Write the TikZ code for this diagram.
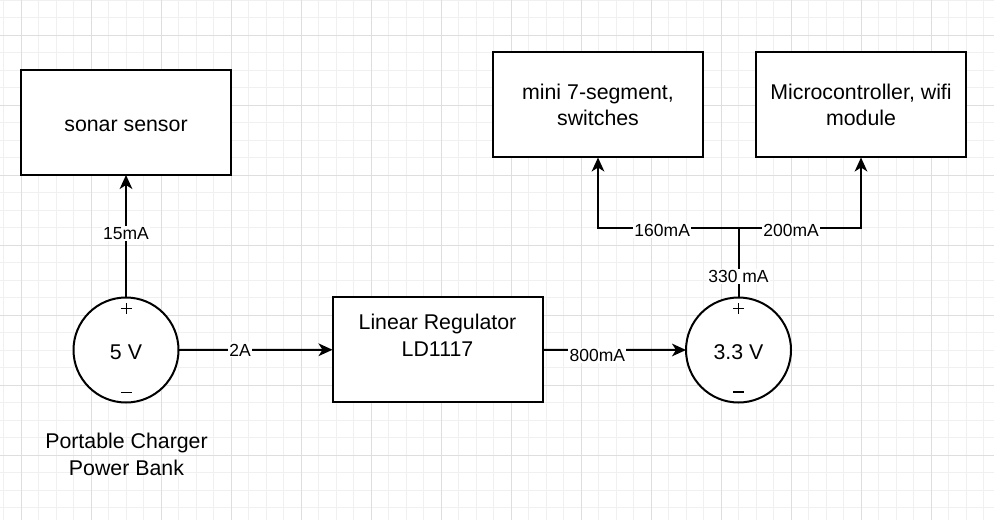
\documentclass[tikz,border=0pt]{standalone}
\usepackage{fontspec}
\setmainfont{Liberation Sans}
\usetikzlibrary{arrows.meta}
\begin{document}
\begin{tikzpicture}[x=0.75pt,y=-0.75pt,
  wire/.style={line width=1.5pt,draw=black},
  arr/.style={wire,-{Stealth[length=10.5pt,width=9.5pt,inset=3pt]}},
  txt/.style={font=\fontsize{16pt}{19.8pt}\selectfont,text height=15.8pt,text depth=2pt,align=center},
  two/.style={text height=33.5pt},
  blk/.style={txt,draw,line width=1.5pt,fill=white,minimum width=157.5pt,minimum height=78.75pt,inner sep=0pt,outer sep=0pt},
  src/.style={txt,draw,line width=1.5pt,fill=white,circle,minimum size=78.75pt,inner sep=0pt,outer sep=0pt},
  lbl/.style={font=\fontsize{13.125pt}{15pt}\selectfont,fill=white,inner sep=1pt},
  sign/.style={line width=1.2pt}
]
\useasboundingbox (0,0) rectangle (994,520);
\fill[white] (0,0) rectangle (994,520);
% grid
\foreach \i in {0,...,56} {\draw[black!6,line width=0.6pt] ({3.5+17.5*\i},0) -- ({3.5+17.5*\i},520);}
\foreach \i in {0,...,29} {\draw[black!6,line width=0.6pt] (0,{17.5*\i}) -- (994,{17.5*\i});}
\foreach \i in {0,...,13} {\draw[black!13,line width=0.6pt] ({21+70*\i},0) -- ({21+70*\i},520);}
\foreach \i in {0,...,7} {\draw[black!13,line width=0.6pt] (0,{35+70*\i}) -- (994,{35+70*\i});}

% blocks
\node[blk] (sonar) at (126,122.5) {sonar sensor};
\node[blk,two] (mini) at (598,105) {mini 7-segment,\\switches};
\node[blk,two] (micro) at (861,105) {Microcontroller, wifi\\module};
\node[blk,text height=11.4pt] (reg) at (437.5,349.75) {Linear Regulator\\LD1117};

% sources
\node[src] (v5) at (126,350) {5 V};
\node[src] (v33) at (738.5,350) {3.3 V};
\draw[sign] (120.8,308.3) -- (131.8,308.3) (126.3,303) -- (126.3,313.6);
\draw[sign] (120.8,392.3) -- (131.8,392.3);
\draw[sign] (733,308.3) -- (744,308.3) (738.5,303) -- (738.5,313.6);
\draw[sign] (733,391.7) -- (744,391.7);
\node[txt,two] (pb) at (126.5,454) {Portable Charger\\Power Bank};

% connectors
\coordinate (jn) at (738.5,228.3);
\draw[arr] (v5.north) -- node[lbl,pos=0.524]{15mA} (sonar.south);
\draw[arr] (v5.east) -- node[lbl,pos=0.40]{2A} (reg.west);
\draw[arr] (reg.east) -- node[lbl,pos=0.382,yshift=-4.5pt]{800mA} (v33.west);
\draw[wire] (v33.north) -- node[lbl,pos=0.31]{330 mA} (jn);
\draw[arr] (jn) -- node[lbl,pos=0.543,yshift=-1.5pt]{160mA} (jn -| mini.south) -- (mini.south);
\draw[arr] (jn) -- node[lbl,pos=0.43,yshift=-1.5pt]{200mA} (jn -| micro.south) -- (micro.south);
\end{tikzpicture}
\end{document}
